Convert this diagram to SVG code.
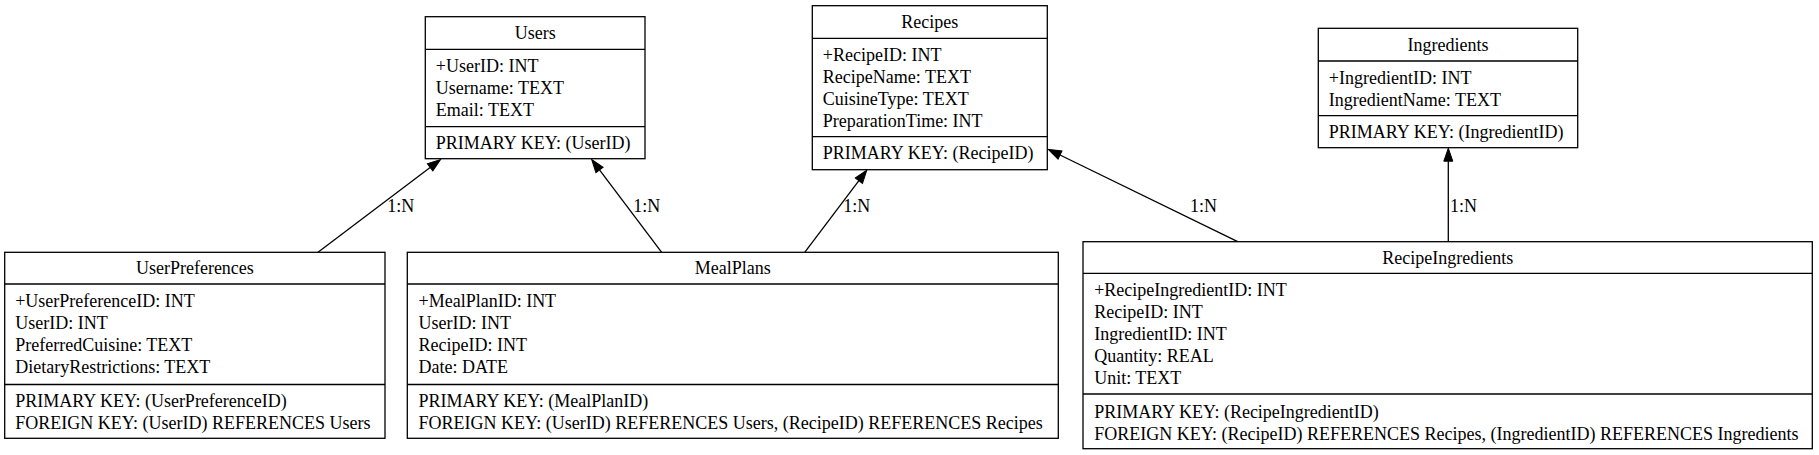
<svg xmlns="http://www.w3.org/2000/svg" width="1819" height="455" viewBox="0 0 1819 455">
<style>
.box{fill:#fff;stroke:#000;stroke-width:1.3}
.sep{stroke:#000;stroke-width:1.3}
text{font-family:"Liberation Serif","Times New Roman",serif;font-size:18px;fill:#000}
.t{text-anchor:middle}
.edge{stroke:#000;stroke-width:1.3;fill:none;marker-end:url(#arr)}
</style>
<defs>
<marker id="arr" markerUnits="userSpaceOnUse" markerWidth="14" markerHeight="10" refX="0" refY="4.5" orient="auto" overflow="visible">
<path d="M0,0 L13,4.5 L0,9 z" fill="#000" stroke="#000" stroke-width="1"/>
</marker>
</defs>
<rect width="1819" height="455" fill="#fff"/>
<g id="connectors">
<line class="edge" x1="318" y1="252.3" x2="430.1" y2="167.4"/>
<line class="edge" x1="661.7" y1="252.3" x2="599.5" y2="169.9"/>
<line class="edge" x1="804.7" y1="252.3" x2="858.9" y2="180.7"/>
<line class="edge" x1="1237.7" y1="241.7" x2="1060" y2="155"/>
<line class="edge" x1="1448.3" y1="241.7" x2="1448.3" y2="161.2"/>
<text x="387.3" y="211.7">1:N</text>
<text x="633.3" y="211.7">1:N</text>
<text x="843.3" y="211.7">1:N</text>
<text x="1190" y="211.7">1:N</text>
<text x="1450" y="211.7">1:N</text>
</g>
<g id="Users">
<rect class="box" x="425.3" y="16.7" width="219.7" height="142"/>
<line class="sep" x1="425.3" y1="49.3" x2="645" y2="49.3"/>
<line class="sep" x1="425.3" y1="126.7" x2="645" y2="126.7"/>
<text class="t" x="535.2" y="39.2">Users</text>
<text x="435.8" y="71.8">+UserID: INT</text>
<text x="435.8" y="93.8">Username: TEXT</text>
<text x="435.8" y="115.8">Email: TEXT</text>
<text x="435.8" y="149">PRIMARY KEY: (UserID)</text>
</g>
<g id="Recipes">
<rect class="box" x="812.3" y="5.7" width="235" height="164"/>
<line class="sep" x1="812.3" y1="38.3" x2="1047.3" y2="38.3"/>
<line class="sep" x1="812.3" y1="136.7" x2="1047.3" y2="136.7"/>
<text class="t" x="929.8" y="28.2">Recipes</text>
<text x="822.8" y="60.8">+RecipeID: INT</text>
<text x="822.8" y="82.8">RecipeName: TEXT</text>
<text x="822.8" y="104.8">CuisineType: TEXT</text>
<text x="822.8" y="126.8">PreparationTime: INT</text>
<text x="822.8" y="159.2">PRIMARY KEY: (RecipeID)</text>
</g>
<g id="Ingredients">
<rect class="box" x="1318.3" y="28.3" width="259.4" height="119.4"/>
<line class="sep" x1="1318.3" y1="61" x2="1577.7" y2="61"/>
<line class="sep" x1="1318.3" y1="115.7" x2="1577.7" y2="115.7"/>
<text class="t" x="1448" y="50.8">Ingredients</text>
<text x="1328.8" y="83.5">+IngredientID: INT</text>
<text x="1328.8" y="105.5">IngredientName: TEXT</text>
<text x="1328.8" y="138">PRIMARY KEY: (IngredientID)</text>
</g>
<g id="UserPreferences">
<rect class="box" x="4.7" y="252.3" width="380.3" height="186"/>
<line class="sep" x1="4.7" y1="284" x2="385" y2="284"/>
<line class="sep" x1="4.7" y1="384.5" x2="385" y2="384.5"/>
<text class="t" x="194.9" y="274.3">UserPreferences</text>
<text x="15.2" y="307">+UserPreferenceID: INT</text>
<text x="15.2" y="329">UserID: INT</text>
<text x="15.2" y="351">PreferredCuisine: TEXT</text>
<text x="15.2" y="373">DietaryRestrictions: TEXT</text>
<text x="15.2" y="407">PRIMARY KEY: (UserPreferenceID)</text>
<text x="15.2" y="429">FOREIGN KEY: (UserID) REFERENCES Users</text>
</g>
<g id="MealPlans">
<rect class="box" x="407.3" y="252.3" width="651" height="186"/>
<line class="sep" x1="407.3" y1="284" x2="1058.3" y2="284"/>
<line class="sep" x1="407.3" y1="384.5" x2="1058.3" y2="384.5"/>
<text class="t" x="732.8" y="274.3">MealPlans</text>
<text x="418.5" y="307">+MealPlanID: INT</text>
<text x="418.5" y="329">UserID: INT</text>
<text x="418.5" y="351">RecipeID: INT</text>
<text x="418.5" y="373">Date: DATE</text>
<text x="418.5" y="407">PRIMARY KEY: (MealPlanID)</text>
<text x="418.5" y="429">FOREIGN KEY: (UserID) REFERENCES Users, (RecipeID) REFERENCES Recipes</text>
</g>
<g id="RecipeIngredients">
<rect class="box" x="1083" y="241.7" width="729.3" height="207"/>
<line class="sep" x1="1083" y1="273.3" x2="1812.3" y2="273.3"/>
<line class="sep" x1="1083" y1="394" x2="1812.3" y2="394"/>
<text class="t" x="1447.7" y="263.8">RecipeIngredients</text>
<text x="1094.2" y="296.3">+RecipeIngredientID: INT</text>
<text x="1094.2" y="318.3">RecipeID: INT</text>
<text x="1094.2" y="340.3">IngredientID: INT</text>
<text x="1094.2" y="362.3">Quantity: REAL</text>
<text x="1094.2" y="384.3">Unit: TEXT</text>
<text x="1094.2" y="417.5">PRIMARY KEY: (RecipeIngredientID)</text>
<text x="1094.2" y="439.5">FOREIGN KEY: (RecipeID) REFERENCES Recipes, (IngredientID) REFERENCES Ingredients</text>
</g>
</svg>
